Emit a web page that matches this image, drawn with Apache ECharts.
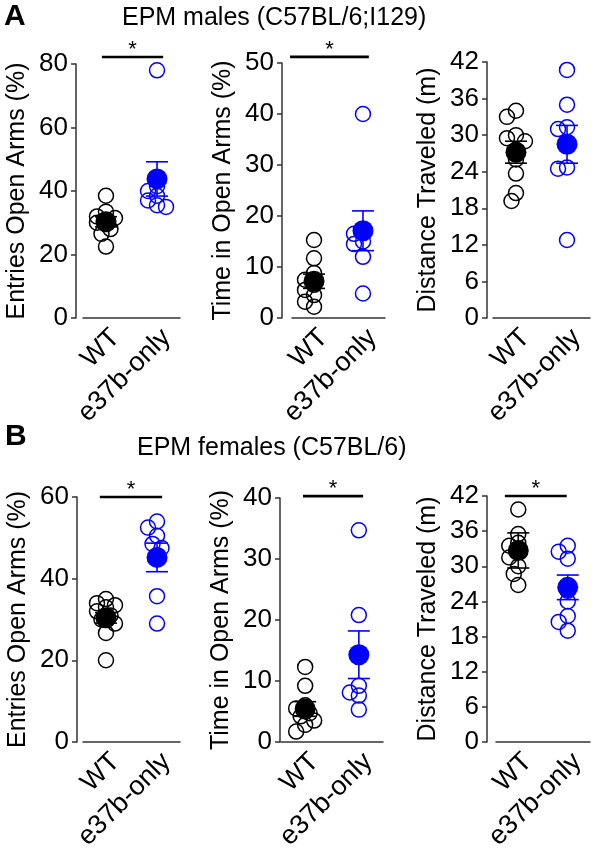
<!DOCTYPE html>
<html><head><meta charset="utf-8">
<script src="https://cdn.jsdelivr.net/npm/echarts@6/dist/echarts.min.js"></script>
<style>html,body{margin:0;padding:0;background:#fff}#c{width:596px;height:853px}</style>
</head><body><div id="c"></div>
<script>
// ---------- data ----------
const groups = ['WT', 'e37b-only'];
const titleA = 'EPM males (C57BL/6;I129)';
const titleB = 'EPM females (C57BL/6)';
const yNames = ['Entries Open Arms (%)', 'Time in Open Arms (%)', 'Distance Traveled (m)'];
const yMaxes = [80, 50, 42, 60, 40, 42];
const yIntervals = [20, 10, 6, 20, 10, 6];

// Panel A (males)
const maleEntriesWT = [38.5, 33.5, 32, 31.5, 30.5, 30, 28, 26.5, 22.5];
const maleEntriesE37b = [78, 41.5, 40, 38.5, 37, 35.5, 35];
const maleEntriesMean = [30.3, 43.8];
const maleEntriesSem = [1.6, 5.4];

const maleTimeWT = [15.3, 11.7, 8.8, 7.5, 6.5, 5.5, 4.5, 3.2, 2.2];
const maleTimeE37b = [40, 17, 16.5, 15, 14.5, 12, 4.8];
const maleTimeMean = [7.2, 17.1];
const maleTimeSem = [1.4, 3.9];

const maleDistWT = [34, 33, 30, 29.5, 29, 26, 23.7, 20.5, 19.2];
const maleDistE37b = [40.7, 35, 31.3, 31, 24.7, 24.5, 12.8];
const maleDistMean = [27.2, 28.5];
const maleDistSem = [1.8, 3.1];

// Panel B (females)
const femEntriesWT = [35, 34, 33.5, 33, 32, 31, 30, 29, 26.7, 20];
const femEntriesE37b = [54, 52.5, 50.5, 48.5, 47.5, 35.7, 29];
const femEntriesMean = [30.4, 45.2];
const femEntriesSem = [1.3, 3.5];

const femTimeWT = [12.3, 9.2, 6, 5.5, 4.7, 4.2, 3.5, 2.8, 1.7];
const femTimeE37b = [34.7, 20.8, 14.2, 9.2, 8.1, 7.6, 5.3];
const femTimeMean = [5.4, 14.3];
const femTimeSem = [1.2, 3.9];

const femDistWT = [39.7, 35.5, 34, 33.5, 32.5, 31.5, 30, 28.7, 26.8];
const femDistE37b = [33.5, 32.5, 31.3, 25.8, 24, 21.5, 20.5, 19];
const femDistMean = [32.7, 26.4];
const femDistSem = [3.0, 2.1];

// significance bars: [from, to, level] (null = none)
const sigBars = [[0.92, 2.12, 82.2], [0.51, 2.12, 51.2], null, [0.88, 2.10, 60], [0.96, 2.08, 40.3], [0.73, 1.98, 42]];

// ---------- layout / style ----------
const FONT = 'Liberation Sans, Arial, Helvetica, sans-serif';
const colors = ['#000000', '#0000ff'];
const X_MIN = 0.55, X_MAX = 2.45;
const layout = [
  {left: 83, top: 64, width: 97, height: 254, off: 7},
  {left: 292, top: 63, width: 93, height: 255, off: 10},
  {left: 493, top: 62, width: 97, height: 256, off: 6},
  {left: 83, top: 497, width: 97, height: 255, off: 6},
  {left: 281, top: 498, width: 102, height: 254, off: 1},
  {left: 496, top: 496, width: 94, height: 256, off: 9}
];
const panels = [
  [maleEntriesWT, maleEntriesE37b, maleEntriesMean, maleEntriesSem],
  [maleTimeWT, maleTimeE37b, maleTimeMean, maleTimeSem],
  [maleDistWT, maleDistE37b, maleDistMean, maleDistSem],
  [femEntriesWT, femEntriesE37b, femEntriesMean, femEntriesSem],
  [femTimeWT, femTimeE37b, femTimeMean, femTimeSem],
  [femDistWT, femDistE37b, femDistMean, femDistSem]
];

// simple beeswarm in pixel space
function swarm(values, center, pxX, pxY) {
  const placed = [], out = [];
  const order = values.map((v, i) => i).sort((a, b) => values[b] - values[a]);
  const minD = 9, step = 4.5, cands = [0, -1, 1, -2, 2];
  for (const i of order) {
    const yy = values[i] * pxY;
    let best = 0, bestScore = -1;
    for (const k of cands) {
      const xx = k * step;
      let md = Infinity;
      for (const p of placed) md = Math.min(md, Math.hypot(p.x - xx, p.y - yy));
      if (md >= minD) { best = xx; break; }
      if (md > bestScore) { bestScore = md; best = xx; }
    }
    placed.push({x: best, y: yy});
    out[i] = [center + best / pxX, values[i]];
  }
  return out;
}

function errRender(params, api) {
  const x = api.value(0), m = api.value(1), s = api.value(2);
  const c = api.coord([x, m]), t = api.coord([x, m + s]), b = api.coord([x, m - s]);
  const col = colors[Math.round(x) - 1];
  const hw = 11;
  return {type: 'group', children: [
    {type: 'line', shape: {x1: c[0], y1: t[1], x2: c[0], y2: b[1]}, style: {stroke: col, lineWidth: 1.6}},
    {type: 'line', shape: {x1: c[0] - hw, y1: t[1], x2: c[0] + hw, y2: t[1]}, style: {stroke: col, lineWidth: 1.6}},
    {type: 'line', shape: {x1: c[0] - hw, y1: b[1], x2: c[0] + hw, y2: b[1]}, style: {stroke: col, lineWidth: 1.6}},
    {type: 'circle', shape: {cx: c[0], cy: c[1], r: 10.5}, style: {fill: col}}
  ]};
}

function sigRender(params, api) {
  const a = api.coord([api.value(0), api.value(2)]);
  const b = api.coord([api.value(1), api.value(2)]);
  return {type: 'group', children: [
    {type: 'line', shape: {x1: a[0], y1: a[1], x2: b[0], y2: b[1]}, style: {stroke: '#000', lineWidth: 2.6}},
    {type: 'text', style: {text: '*', x: (a[0] + b[0]) / 2, y: a[1] + 4, align: 'center', verticalAlign: 'bottom', fontSize: 22, fontFamily: FONT, fill: '#000'}}
  ]};
}

const grid = [], xAxis = [], yAxis = [], series = [];
layout.forEach((L, i) => {
  grid.push({left: L.left, top: L.top, width: L.width, height: L.height});
  xAxis.push({
    type: 'value', gridIndex: i, min: X_MIN, max: X_MAX,
    axisLine: {show: true, lineStyle: {color: '#333', width: 1.5}},
    axisTick: {show: false}, splitLine: {show: false},
    axisLabel: {
      customValues: [1, 2], rotate: 45, margin: 6, fontSize: 27, color: '#000', fontFamily: FONT,
      verticalAlign: 'top',
      formatter: v => groups[Math.round(v) - 1]
    }
  });
  yAxis.push({
    type: 'value', gridIndex: i, min: 0, max: yMaxes[i], interval: yIntervals[i], offset: L.off,
    name: yNames[i % 3], nameLocation: 'middle', nameGap: 46,
    nameTextStyle: {fontSize: 25, color: '#000', fontFamily: FONT},
    axisLine: {show: true, lineStyle: {color: '#333', width: 1.5}},
    axisTick: {show: true, length: 5, lineStyle: {color: '#333', width: 1.5}},
    splitLine: {show: false},
    axisLabel: {fontSize: 26, color: '#000', margin: 8, fontFamily: FONT}
  });
  const [wt, e37, mean, sem] = panels[i];
  const pxX = L.width / (X_MAX - X_MIN), pxY = L.height / yMaxes[i];
  [wt, e37].forEach((vals, g) => {
    series.push({
      type: 'scatter', xAxisIndex: i, yAxisIndex: i, clip: false, z: 2,
      symbol: 'circle', symbolSize: 15, silent: true,
      itemStyle: {color: 'rgba(255,255,255,0)', borderColor: colors[g], borderWidth: 1.5, opacity: 1},
      data: swarm(vals, g + 1, pxX, pxY)
    });
  });
  series.push({
    type: 'custom', xAxisIndex: i, yAxisIndex: i, z: 3, clip: false,
    encode: {x: 0, y: 1}, renderItem: errRender,
    data: [[1, mean[0], sem[0]], [2, mean[1], sem[1]]]
  });
  if (sigBars[i]) {
    series.push({
      type: 'custom', xAxisIndex: i, yAxisIndex: i, z: 4, clip: false,
      encode: {x: [0, 1], y: 2}, renderItem: sigRender,
      data: [sigBars[i]]
    });
  }
});

const chart = echarts.init(document.getElementById('c'), null, {renderer: 'canvas'});
chart.setOption({
  backgroundColor: '#fff',
  animation: false,
  title: [
    {text: 'A', left: 4, top: 2, padding: 0, textStyle: {fontSize: 30, fontWeight: 'bold', color: '#000', fontFamily: FONT}},
    {text: titleA, left: 122, top: 6, padding: 0, textStyle: {fontSize: 25, fontWeight: 'normal', color: '#000', fontFamily: FONT}},
    {text: 'B', left: 5, top: 422, padding: 0, textStyle: {fontSize: 30, fontWeight: 'bold', color: '#000', fontFamily: FONT}},
    {text: titleB, left: 137, top: 436, padding: 0, textStyle: {fontSize: 25, fontWeight: 'normal', color: '#000', fontFamily: FONT}}
  ],
  grid, xAxis, yAxis, series
});
</script>
</body></html>
